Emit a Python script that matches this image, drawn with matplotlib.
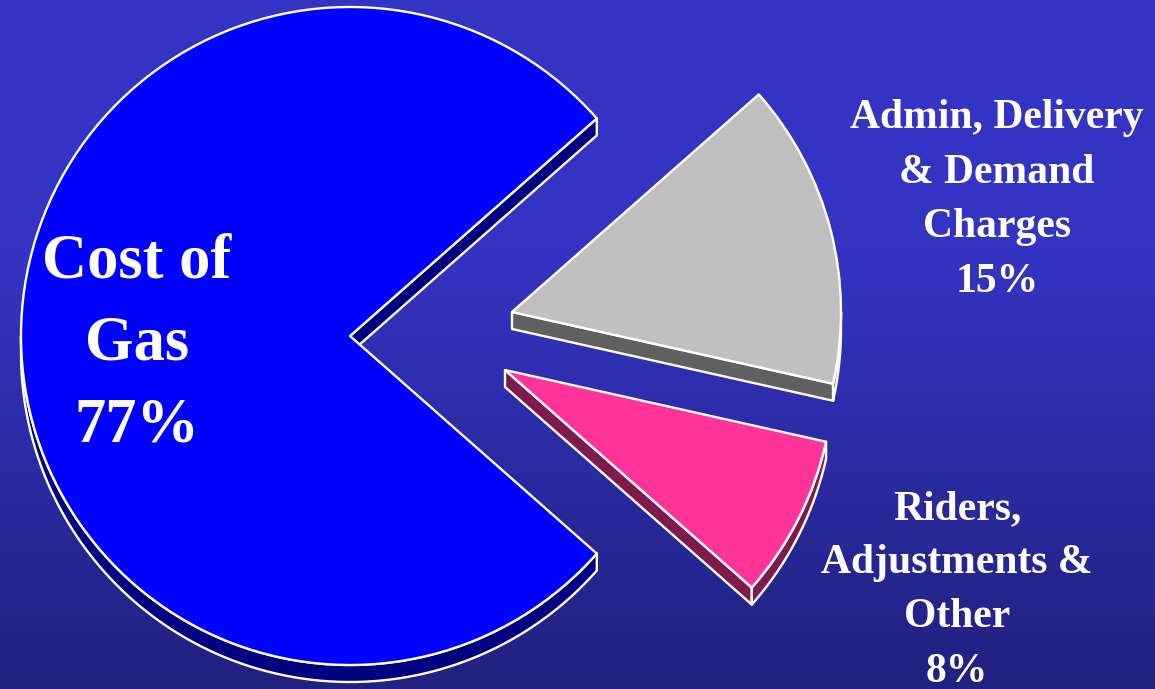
import numpy as np
import matplotlib
matplotlib.use("Agg")
import matplotlib.pyplot as plt
from matplotlib.patches import Wedge, Polygon
from matplotlib.colors import LinearSegmentedColormap

# bill breakdown, in percent
names = ["Cost of\nGas", "Admin, Delivery\n& Demand\nCharges", "Riders,\nAdjustments &\nOther"]
shares = [77, 15, 8]

top_colors = ["#0000ff", "#c0c0c0", "#ff3399"]
side_colors = ["#000080", "#606060", "#7f1a4c"]

# pixel layout: pie center, radius, slab depth, per-slice offsets
W, H = 1155, 689
cx, cy = 350, 353
radius = 329
depth = 17
offsets = [(0, 0), (162, 24), (155, -34)]
label_pos = [(137, 411, 82, 45), (997, 561, 54.7, 30), (957, 170, 54.2, 30)]

fig = plt.figure(figsize=(W / 100, H / 100), dpi=100)
ax = fig.add_axes([0, 0, 1, 1])
ax.set_xlim(0, W)
ax.set_ylim(0, H)
ax.axis("off")

# background: flat blue on top, fading darker toward the bottom
t = np.linspace(0, 1, 400)
ramp = np.clip((t - 0.36) / 0.64, 0, 1)
bg_cmap = LinearSegmentedColormap.from_list("bg", ["#3434c4", "#21217f"])
ax.imshow(ramp[:, None], cmap=bg_cmap, extent=[0, W, 0, H], aspect="auto",
          origin="upper", vmin=0, vmax=1, zorder=0)


def side_faces(x0, y0, r, t1, t2):
    faces = []
    # straight cut edges whose outward normal points down
    for ang, nrm in ((t1, t1 - 90), (t2, t2 + 90)):
        if np.sin(np.radians(nrm)) < -1e-6:
            ex = x0 + r * np.cos(np.radians(ang))
            ey = y0 + r * np.sin(np.radians(ang))
            faces.append([(x0, y0), (ex, ey), (ex, ey - depth), (x0, y0 - depth)])
    # rim: only the lower half of the circle shows
    for k in range(-2, 3):
        lo = max(t1, 180 + 360 * k)
        hi = min(t2, 360 + 360 * k)
        if lo < hi:
            th = np.radians(np.linspace(lo, hi, 120))
            xs = x0 + r * np.cos(th)
            ys = y0 + r * np.sin(th)
            pts = list(zip(xs, ys)) + list(zip(xs[::-1], ys[::-1] - depth))
            faces.append(pts)
    return faces


# slices run clockwise, the gap of the big slice centred on the right
total = sum(shares)
angle = -180 * (total - shares[0]) / total
for i, share in enumerate(shares):
    span = 360 * share / total
    t2 = angle
    t1 = angle - span
    angle = t1
    x0 = cx + offsets[i][0]
    y0 = cy + offsets[i][1]
    for pts in side_faces(x0, y0, radius, t1, t2):
        ax.add_patch(Polygon(pts, closed=True, facecolor=side_colors[i],
                             edgecolor="white", linewidth=1.7, joinstyle="round",
                             zorder=2 + i))
    ax.add_patch(Wedge((x0, y0), radius, t1, t2, facecolor=top_colors[i],
                       edgecolor="white", linewidth=1.7, joinstyle="round",
                       zorder=2 + i))

# labels, one line at a time
for i, (name, share) in enumerate(zip(names, shares)):
    lx, ly, step, size = label_pos[i]
    lines = name.split("\n") + [f"{share}%"]
    for j, line in enumerate(lines):
        ax.text(lx, ly - j * step, line, ha="center", va="baseline",
                color="white", fontsize=size, fontweight="bold",
                family="Liberation Serif", zorder=10)

fig.savefig("out.png", dpi=100)
